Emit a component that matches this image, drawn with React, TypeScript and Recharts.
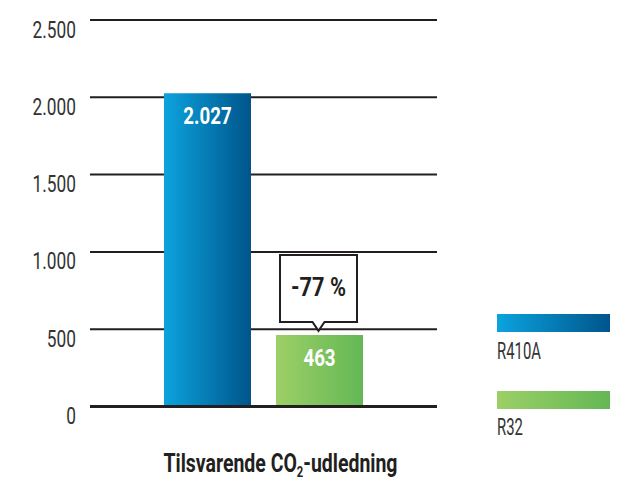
import React from "react";
import { BarChart, Bar, XAxis, YAxis, CartesianGrid, LabelList } from "recharts";

const categories = ["Tilsvarende CO2-udledning"];
const seriesNames = ["R410A", "R32"];
const r410aValues = [2027];
const r32Values = [463];
const yTicks = [0, 500, 1000, 1500, 2000, 2500];

const data = categories.map((c, i) => ({
  name: c,
  R410A: r410aValues[i],
  R32: r32Values[i],
}));

const FONT = "Roboto, 'Liberation Sans', sans-serif";
const DARK = "#231f20";
const GREY = "#333333";
const gradients = [
  { id: "gBlue", from: "#0ba3de", to: "#00558b" },
  { id: "gGreen", from: "#9dcf66", to: "#63b855" },
];

const fmt = (v: number) => String(Math.round(v)).replace(/\B(?=(\d{3})+(?!\d))/g, ".");

const reduction = Math.round(((r32Values[0] - r410aValues[0]) / r410aValues[0]) * 100);

const CondText = (props: any) => {
  const { x, y, sx, children, ...rest } = props;
  return (
    <text transform={`translate(${x},${y}) scale(${sx},1)`} x={0} y={0} fontFamily={FONT} {...rest}>
      {children}
    </text>
  );
};

const YTick = (props: any) => {
  const { x, y, payload } = props;
  return (
    <CondText x={x} y={y + 17.5} sx={0.72} textAnchor="end" fill={GREY} fontSize={24}>
      {fmt(payload.value)}
    </CondText>
  );
};

const ValueLabel = (props: any) => {
  const { x, y, width, value } = props;
  return (
    <CondText x={x + width / 2} y={y + 31} sx={0.78} textAnchor="middle" fill="#fff" fontWeight={700} fontSize={24}>
      {fmt(value)}
    </CondText>
  );
};

const Callout = (props: any) => {
  const { x, y, width } = props;
  const cx = x + width / 2 - 1;
  const bw = 77;
  const bh = 67;
  const bottom = y - 13;
  const top = bottom - bh;
  const left = cx - bw / 2;
  const right = cx + bw / 2;
  const d = `M${left},${top} L${right},${top} L${right},${bottom} L${cx + 6},${bottom} L${cx},${y - 4} L${cx - 6},${bottom} L${left},${bottom} Z`;
  return (
    <g>
      <path d={d} fill="#fff" stroke={DARK} strokeWidth={2} />
      <text x={cx} y={top + bh / 2 + 8} textAnchor="middle" fill={DARK} fontFamily={FONT} fontWeight={700} fontSize={25} textLength={55} lengthAdjust="spacingAndGlyphs">
        {`${reduction} %`}
      </text>
    </g>
  );
};

const XTitle = (props: any) => {
  const { viewBox } = props;
  const cx = viewBox.x + viewBox.width / 2 + 17;
  return (
    <text x={cx} y={472} textAnchor="middle" fill={DARK} fontFamily={FONT} fontWeight={700} fontSize={26} textLength={234} lengthAdjust="spacingAndGlyphs">
      <tspan>Tilsvarende CO</tspan>
      <tspan fontSize={15} dy={5}>2</tspan>
      <tspan dy={-5}>-udledning</tspan>
    </text>
  );
};

const LegendSvg = () => (
  <svg width={634} height={482} style={{ position: "absolute", left: 0, top: 0, pointerEvents: "none" }}>
    <defs>
      {gradients.map((g) => (
        <linearGradient key={g.id} id={`${g.id}L`} x1="0" y1="0" x2="1" y2="0">
          <stop offset="0%" stopColor={g.from} />
          <stop offset="100%" stopColor={g.to} />
        </linearGradient>
      ))}
    </defs>
    {seriesNames.map((n, i) => (
      <g key={n}>
        <rect x={497} y={314 + i * 77} width={113} height={18} fill={`url(#${gradients[i].id}L)`} />
        <CondText x={497} y={359 + i * 76} sx={0.62} fill={GREY} fontSize={24}>
          {n}
        </CondText>
      </g>
    ))}
  </svg>
);

export default function App() {
  return (
    <div style={{ position: "absolute", left: 0, top: 0, width: 634, height: 482, background: "#fff" }}>
      <BarChart width={634} height={482} data={data} margin={{ top: 20, right: 197, bottom: 0, left: 0 }} barGap={25} barSize={87}>
        <defs>
          {gradients.map((g) => (
            <linearGradient key={g.id} id={g.id} x1="0" y1="0" x2="1" y2="0">
              <stop offset="0%" stopColor={g.from} />
              <stop offset="100%" stopColor={g.to} />
            </linearGradient>
          ))}
        </defs>
        <CartesianGrid horizontal vertical={false} stroke={DARK} strokeWidth={2} />
        <XAxis dataKey="name" height={75.5} tick={false} tickLine={false} axisLine={{ stroke: DARK, strokeWidth: 3 }} label={<XTitle />} />
        <YAxis
          width={90}
          domain={[0, 2500]}
          ticks={yTicks}
          tickLine={false}
          axisLine={false}
          tickSize={0}
          tickMargin={14}
          tick={<YTick />}
        />
        <Bar dataKey="R410A" name={seriesNames[0]} fill="url(#gBlue)" isAnimationActive={false}>
          <LabelList dataKey="R410A" content={<ValueLabel />} />
        </Bar>
        <Bar dataKey="R32" name={seriesNames[1]} fill="url(#gGreen)" isAnimationActive={false}>
          <LabelList dataKey="R32" content={<ValueLabel />} />
          <LabelList dataKey="R32" content={<Callout />} />
        </Bar>
      </BarChart>
      <LegendSvg />
    </div>
  );
}
